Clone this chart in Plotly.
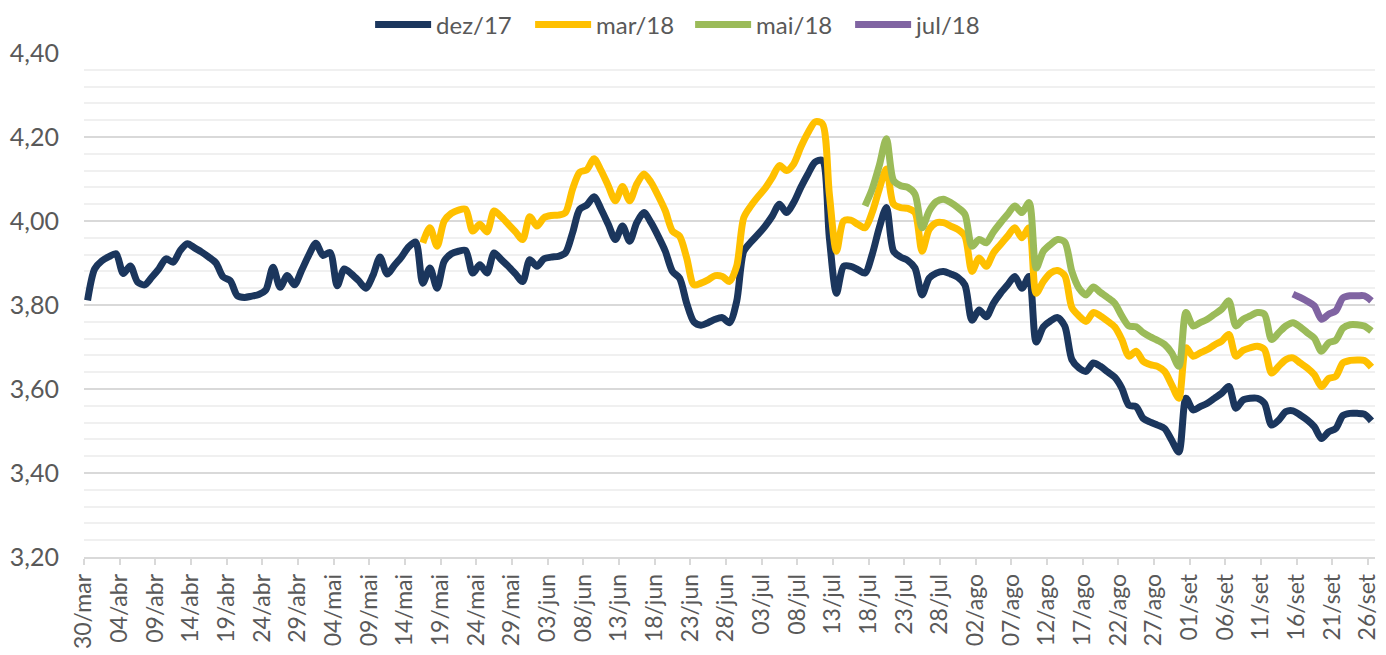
import pandas as pd
import plotly.graph_objects as go

# ---- data ----
series_names = ["dez/17", "mar/18", "mai/18", "jul/18"]
series_colors = ["#1B365D", "#FFC000", "#9BBB59", "#8064A2"]
series_start = ["2017-03-30", "2017-05-16", "2017-07-17", "2017-09-15"]

dez17 = [
    3.811, 3.886, 3.905, 3.915, 3.922, 3.875, 3.893, 3.855, 3.848, 3.866,
    3.886, 3.910, 3.902, 3.930, 3.946, 3.936, 3.926, 3.914, 3.900, 3.867,
    3.858, 3.822, 3.818, 3.821, 3.825, 3.836, 3.890, 3.842, 3.870, 3.848,
    3.882, 3.918, 3.947, 3.918, 3.925, 3.846, 3.886, 3.874, 3.858, 3.840,
    3.870, 3.914, 3.874, 3.894, 3.914, 3.938, 3.950, 3.852, 3.888, 3.840,
    3.904, 3.922, 3.928, 3.930, 3.876, 3.896, 3.876, 3.924, 3.908, 3.892,
    3.874, 3.856, 3.908, 3.892, 3.910, 3.914, 3.916, 3.924, 3.972, 4.028,
    4.038, 4.058, 4.028, 3.992, 3.956, 3.988, 3.952, 3.996, 4.020, 3.996,
    3.964, 3.928, 3.880, 3.864, 3.804, 3.760, 3.752, 3.758, 3.766, 3.770,
    3.758, 3.808, 3.928, 3.950, 3.968, 3.988, 4.012, 4.040, 4.020, 4.044,
    4.080, 4.112, 4.140, 4.144, 3.960, 3.828, 3.892, 3.892, 3.884, 3.876,
    3.920, 3.984, 4.032, 3.928, 3.914, 3.906, 3.888, 3.824, 3.864, 3.876,
    3.880, 3.874, 3.866, 3.848, 3.764, 3.788, 3.772, 3.804, 3.828, 3.848,
    3.868, 3.840, 3.868, 3.712, 3.748, 3.762, 3.770, 3.750, 3.670, 3.650,
    3.642, 3.662, 3.654, 3.641, 3.628, 3.602, 3.561, 3.558, 3.530, 3.521,
    3.514, 3.506, 3.478, 3.450, 3.578, 3.550, 3.558, 3.566, 3.578, 3.590,
    3.606, 3.554, 3.574, 3.578, 3.578, 3.566, 3.514, 3.526, 3.546, 3.548,
    3.538, 3.526, 3.510, 3.482, 3.498, 3.506, 3.537, 3.542, 3.542, 3.540,
    3.524,
]

mar18 = [
    3.948, 3.984, 3.940, 4.000, 4.018, 4.026, 4.028, 3.976, 3.992, 3.974,
    4.024, 4.010, 3.992, 3.974, 3.956, 4.010, 3.988, 4.008, 4.013, 4.014,
    4.020, 4.076, 4.116, 4.122, 4.148, 4.120, 4.084, 4.048, 4.082, 4.048,
    4.088, 4.112, 4.092, 4.060, 4.024, 3.976, 3.964, 3.912, 3.848, 3.852,
    3.860, 3.870, 3.868, 3.856, 3.892,
    4.008, 4.036, 4.058, 4.078, 4.104, 4.132, 4.120, 4.136, 4.176, 4.210,
    4.236, 4.232, 4.064, 3.928, 4.000, 4.002, 3.992, 3.984, 4.020, 4.076,
    4.124, 4.040, 4.032, 4.030, 4.020, 3.928, 3.980, 3.996, 3.996, 3.988,
    3.980, 3.964, 3.880, 3.912, 3.892, 3.924, 3.944, 3.964, 3.984, 3.960,
    3.984, 3.828, 3.856, 3.876,
    3.882, 3.870, 3.794, 3.774, 3.761, 3.782, 3.774, 3.762, 3.748, 3.718,
    3.678, 3.690, 3.666, 3.658, 3.654, 3.642, 3.610, 3.578, 3.698, 3.678,
    3.686, 3.694, 3.705, 3.714, 3.730, 3.678, 3.692, 3.698, 3.702, 3.694,
    3.638, 3.654, 3.670, 3.674, 3.662, 3.650, 3.634, 3.606, 3.625, 3.630,
    3.662, 3.668, 3.669, 3.668, 3.652,
]

mai18 = [
    4.036, 4.076, 4.132, 4.196, 4.096, 4.084, 4.080, 4.064, 3.984, 4.024,
    4.046, 4.052, 4.044, 4.032, 4.016, 3.940, 3.956, 3.948, 3.974, 3.996,
    4.016, 4.036, 4.020, 4.044, 3.888, 3.928, 3.944, 3.956, 3.950, 3.880,
    3.840, 3.824, 3.843, 3.830, 3.818, 3.804, 3.774, 3.750, 3.748, 3.734,
    3.724, 3.716, 3.706, 3.686, 3.654, 3.782, 3.750, 3.758, 3.766, 3.778,
    3.790, 3.810, 3.750, 3.766, 3.774, 3.782, 3.778, 3.718, 3.734, 3.750,
    3.758, 3.748, 3.734, 3.721, 3.690, 3.710, 3.716, 3.745, 3.753, 3.753,
    3.750, 3.738,
]

jul18 = [3.826, 3.818, 3.809, 3.798, 3.766, 3.778, 3.786, 3.817, 3.822,
         3.822, 3.822, 3.810]

series_values = [dez17, mar18, mai18, jul18]

month_abbr = ["jan", "fev", "mar", "abr", "mai", "jun", "jul", "ago", "set",
              "out", "nov", "dez"]
tick_start = "2017-03-30"
tick_end = "2017-09-26"
axis_range = ["2017-03-30", "2017-09-27"]

# ---- figure ----
FONT = "Lato, 'Open Sans', sans-serif"
TXT = "#595959"

fig = go.Figure()
for name, color, start, vals in zip(series_names, series_colors, series_start, series_values):
    x = pd.date_range(start, periods=len(vals), freq="D") + pd.Timedelta(hours=12)
    fig.add_trace(go.Scatter(
        x=x, y=vals, name=name, mode="lines",
        line=dict(color=color, width=7, shape="spline", smoothing=0.8),
        hoverinfo="x+y",
    ))

tick_dates = pd.date_range(tick_start, tick_end, freq="5D")
tick_text = [f"{d.day:02d}/{month_abbr[d.month - 1]}" for d in tick_dates]

# the page body adds an 8 px offset, so the figure is 8 px smaller each way
fig.update_layout(
    width=1378, height=647,
    margin=dict(l=76, r=11, t=45, b=98, autoexpand=False),
    paper_bgcolor="white", plot_bgcolor="white",
    separators=",.",
    font=dict(family=FONT, color=TXT, size=24),
    showlegend=True,
    legend=dict(
        orientation="h", xref="container", yref="container",
        x=0.495, xanchor="center", y=0.974, yanchor="middle",
        font=dict(family=FONT, size=24, color=TXT),
        bgcolor="rgba(0,0,0,0)", itemwidth=56, tracegroupgap=0,
        entrywidth=89, entrywidthmode="pixels",
    ),
    xaxis=dict(
        type="date", range=axis_range, automargin=False,
        tickmode="array", tickvals=list(tick_dates), ticktext=tick_text,
        tickangle=-90, tickfont=dict(family=FONT, size=23, color=TXT),
        showgrid=False, zeroline=False,
        showline=True, linecolor="#d9d9d9", linewidth=1.5,
        ticks="outside", ticklen=6, tickcolor="#d9d9d9", tickwidth=1.5,
    ),
    yaxis=dict(
        range=[3.20, 4.40], dtick=0.2, tick0=3.2, tickformat=".2f",
        automargin=False,
        tickfont=dict(family=FONT, size=25, color=TXT),
        showgrid=True, gridcolor="#d9d9d9", gridwidth=1.5,
        zeroline=False, showline=False, ticks="", ticklabelstandoff=24,
        minor=dict(dtick=0.04, tick0=3.2, showgrid=True, gridcolor="#f0f0f0", gridwidth=1.5),
    ),
)

fig.write_html("out.html")
